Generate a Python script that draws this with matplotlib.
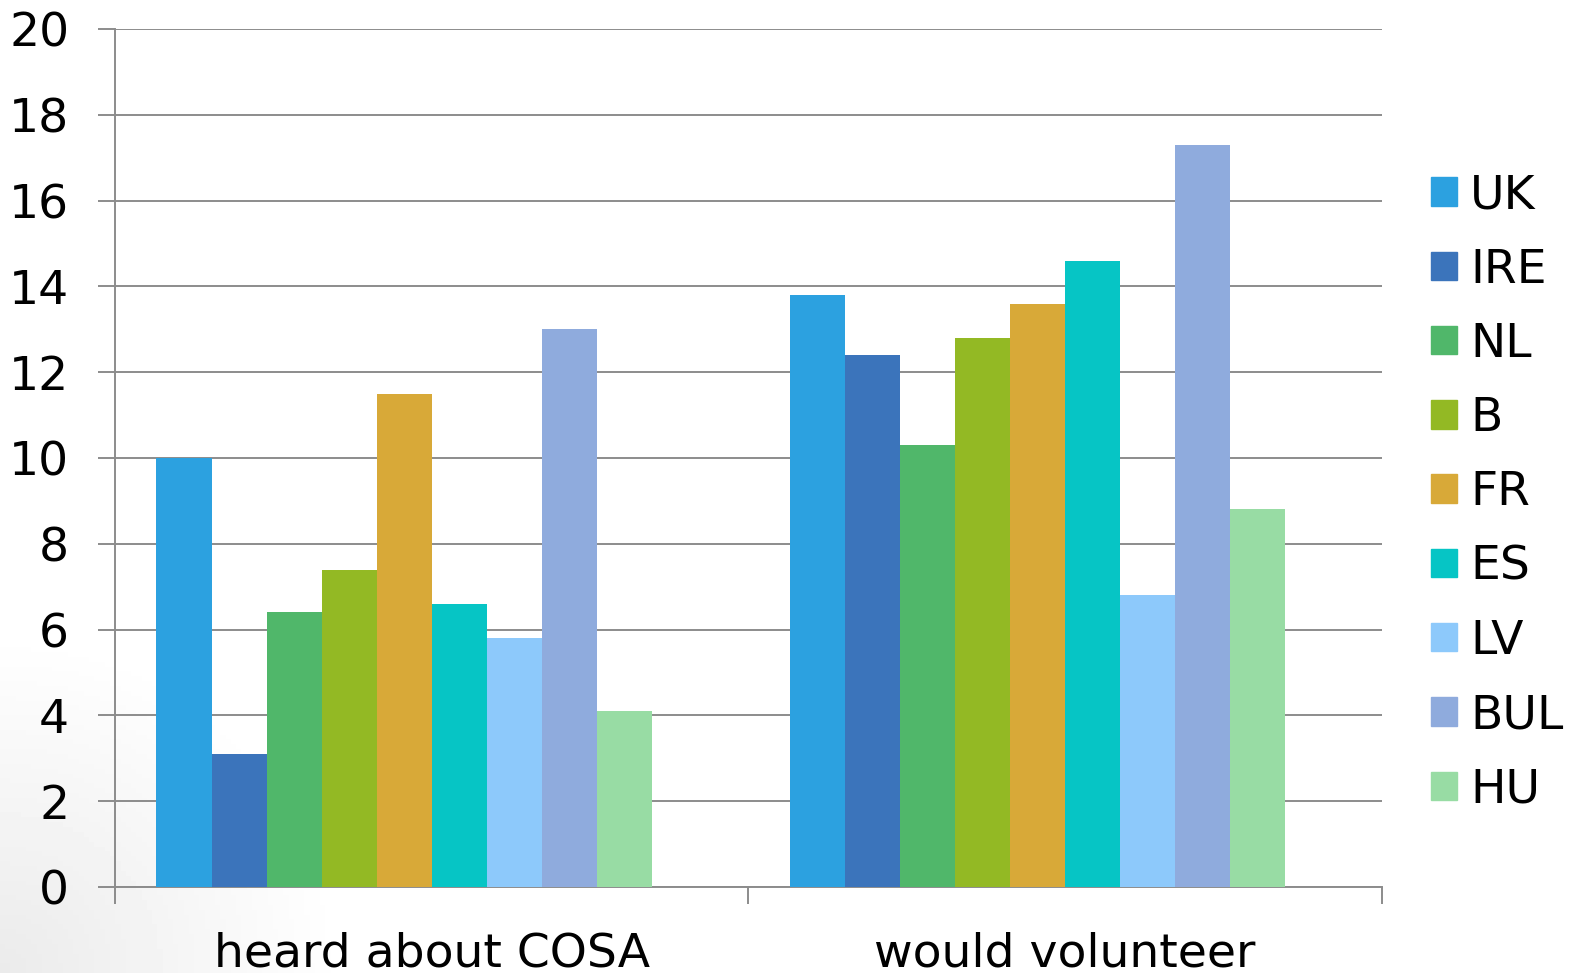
import numpy as np
import matplotlib.pyplot as plt
from matplotlib.patches import Patch

categories = ["heard about COSA", "would volunteer"]
countries = ["UK", "IRE", "NL", "B", "FR", "ES", "LV", "BUL", "HU"]
heard = [10.0, 3.1, 6.4, 7.4, 11.5, 6.6, 5.8, 13.0, 4.1]
volunteer = [13.8, 12.4, 10.3, 12.8, 13.6, 14.6, 6.8, 17.3, 8.8]
colors = ["#2CA1E0", "#3B74BB", "#50B76A", "#93B924", "#D8A938",
          "#06C5C5", "#8DC9FB", "#8FABDD", "#98DCA4"]

GRID = "#8C8C8C"

fig = plt.figure(figsize=(15.75, 9.73), dpi=100)

# faint grey shading in the lower-left corner
grad = fig.add_axes([0, 0, 1, 1], zorder=-10)
yy, xx = np.mgrid[0:1:200j, 0:1:300j]
dist = np.sqrt((xx * 1.6) ** 2 + (yy * 1.0) ** 2)
shade = np.clip(1 - dist / 0.35, 0, 1) * 0.08
grad.imshow(1 - shade, cmap="gray", vmin=0, vmax=1, origin="lower",
            extent=[0, 1, 0, 1], aspect="auto")
grad.axis("off")

ax = fig.add_axes([115 / 1575, 1 - 887 / 973, (1382 - 115) / 1575, (887 - 29) / 973])
ax.patch.set_alpha(0)

x = np.arange(len(categories))
w = 0.0869
values = np.array([heard, volunteer])
for i, c in enumerate(countries):
    ax.bar(x - 5 * w + (i + 0.5) * w, values[:, i], width=w, color=colors[i],
           label=c, zorder=3)

ax.set_xlim(-0.5, 1.5)
ax.set_ylim(0, 20)
ax.set_yticks(range(0, 21, 2))
ax.yaxis.grid(True, color=GRID, linewidth=1.4, zorder=0)
ax.set_axisbelow(True)

for s in ["top", "right"]:
    ax.spines[s].set_visible(False)
for s in ["left", "bottom"]:
    ax.spines[s].set_color(GRID)
    ax.spines[s].set_linewidth(1.4)

ax.tick_params(axis="y", length=12, width=1.4, color=GRID, pad=21,
               labelsize=34)
# category boundaries as x ticks, labels centered via minor ticks
ax.set_xticks([-0.5, 0.5, 1.5])
ax.set_xticklabels([])
ax.tick_params(axis="x", which="major", length=12, width=1.4, color=GRID)
ax.set_xticks(x, minor=True)
ax.set_xticklabels(categories, minor=True)
ax.tick_params(axis="x", which="minor", length=0, pad=32, labelsize=34)

handles = [Patch(color=c) for c in colors]
fig.legend(handles, countries, loc="center left",
           bbox_to_anchor=(1412 / 1575, 0.4934), frameon=False,
           fontsize=34, handlelength=0.55, handleheight=0.55,
           handletextpad=0.28, labelspacing=0.62, borderaxespad=0)

fig.savefig("out.png", dpi=100)
